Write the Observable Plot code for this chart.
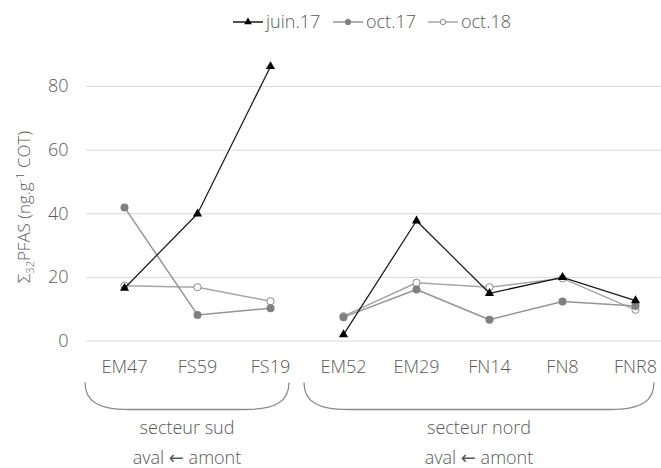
<!DOCTYPE html>
<html><head><meta charset="utf-8">
<script src="https://cdn.jsdelivr.net/npm/d3@7"></script>
<script src="https://cdn.jsdelivr.net/npm/@observablehq/plot@0.6"></script>
<style>body{margin:0;background:#fff}</style>
</head><body><div id="chart"></div>
<script>
const sites = ["EM47","FS59","FS19","EM52","EM29","FN14","FN8","FNR8"];
const siteSector = ["sud","sud","sud","nord","nord","nord","nord","nord"];
const juin17 = [16.6, 40.0, 86.3, 2.0, 37.8, 15.0, 20.0, 12.7];
const oct17  = [42.0, 8.2, 10.3, 7.5, 16.2, 6.7, 12.4, 11.0];
const oct18  = [17.4, 16.9, 12.5, 7.8, 18.3, 16.9, 19.7, 9.8];
const seriesNames = ["juin.17","oct.17","oct.18"];
const yTicks = [0, 20, 40, 60, 80];
const sectorKeys = ["sud","nord"];
const sectorLabels = ["secteur sud","secteur nord"];
const sectorFirst = ["EM47","EM52"];
const sectorLast = ["FS19","FNR8"];
const directionWords = ["aval", "amont"];

const ink = "#595959";
const FONT = "'Open Sans', 'Segoe UI', sans-serif";
const seriesValues = [juin17, oct17, oct18];
const rows = [];
seriesNames.forEach((s, k) => sites.forEach((site, i) =>
  rows.push({series: s, site, sector: siteSector[i], value: seriesValues[k][i]})));
const of = s => rows.filter(d => d.series === s);

const chart = Plot.plot({
  width: 661, height: 468,
  marginLeft: 86, marginRight: 0, marginTop: 86, marginBottom: 127.5,
  style: {fontFamily: FONT, fontWeight: 300, fontSize: "18px", color: ink, background: "#fff", overflow: "visible"},
  x: {type: "point", domain: sites, range: [86.5, 671.5], padding: 0.5},
  y: {domain: [0, 80]},
  marks: [
    Plot.gridY(yTicks, {stroke: "#d9d9d9", strokeOpacity: 1, strokeWidth: 1}),
    Plot.axisY(yTicks, {tickSize: 0, tickPadding: 18, label: null, fontSize: 18, fill: ink}),
    Plot.axisX({tickSize: 0, tickPadding: 19, label: null, fontSize: 18, fill: ink}),
    Plot.line(of("oct.18"), {x: "site", y: "value", z: "sector", stroke: "#a6a6a6", strokeWidth: 1.5}),
    Plot.dot(of("oct.18"), {x: "site", y: "value", r: 3.6, fill: "white", stroke: "#8c8c8c", strokeWidth: 1}),
    Plot.line(of("oct.17"), {x: "site", y: "value", z: "sector", stroke: "#959595", strokeWidth: 1.5}),
    Plot.dot(of("oct.17"), {x: "site", y: "value", r: 4, fill: "#808080", stroke: "none"}),
    Plot.line(of("juin.17"), {x: "site", y: "value", z: "sector", stroke: "#1a1a1a", strokeWidth: 1.25}),
    Plot.dot(of("juin.17"), {x: "site", y: "value", symbol: "triangle", r: 3.4, fill: "#000", stroke: "none"})
  ]
});
document.getElementById("chart").append(chart);

const svg = d3.select(chart);
const xs = chart.scale("x");
const yBase = 468 - 127.5;

// sector brackets and labels
sectorKeys.forEach((k, i) => {
  const x0 = xs.apply(sectorFirst[i]) - 39;
  const x1 = xs.apply(sectorLast[i]) + 19;
  const yT = yBase + 42, yB = yBase + 69;
  svg.append("path")
    .attr("d", `M${x0},${yT} C${x0},${yT + 18} ${x0 + 12},${yB} ${x0 + 44},${yB} L${x1 - 44},${yB} C${x1 - 12},${yB} ${x1},${yT + 18} ${x1},${yT}`)
    .attr("fill", "none").attr("stroke", "#8c8c8c").attr("stroke-width", 1.3);
  const cx = (x0 + x1) / 2;
  svg.append("text").attr("x", cx).attr("y", yBase + 93.5)
    .attr("text-anchor", "middle").attr("fill", ink)
    .style("font", `300 18px ${FONT}`).text(sectorLabels[i]);
  const t2 = svg.append("text").attr("x", cx).attr("y", yBase + 123.5)
    .attr("text-anchor", "middle").attr("fill", ink)
    .style("font", `300 18px ${FONT}`);
  t2.append("tspan").text(directionWords[0] + " ");
  t2.append("tspan").style("font", "400 18px 'DejaVu Sans', sans-serif").text("\u2190");
  t2.append("tspan").text(" " + directionWords[1]);
});

// y label
const yl = svg.append("text").attr("transform", "translate(24,207) rotate(-90)")
  .attr("text-anchor", "middle").attr("dy", "0.35em").attr("fill", ink)
  .style("font", `300 17px ${FONT}`);
yl.append("tspan").text("\u03a3");
yl.append("tspan").attr("dy", 4).style("font-size", "11px").text("32");
yl.append("tspan").attr("dy", -4).text("PFAS (ng.g");
yl.append("tspan").attr("dy", -6).style("font-size", "11px").text("-1");
yl.append("tspan").attr("dy", 6).text(" COT)");

// legend
const legendX = [233, 333, 428];
const legendY = 22;
const legendStyle = [
  {line: "#1a1a1a", sym: "triangle", fill: "#000", stroke: "none"},
  {line: "#959595", sym: "circle", fill: "#808080", stroke: "none"},
  {line: "#a6a6a6", sym: "circle", fill: "white", stroke: "#8c8c8c"}
];
seriesNames.forEach((s, i) => {
  const x = legendX[i], st = legendStyle[i];
  svg.append("line").attr("x1", x).attr("x2", x + 30).attr("y1", legendY).attr("y2", legendY)
    .attr("stroke", st.line).attr("stroke-width", 1.5);
  const sym = st.sym === "triangle" ? d3.symbol(d3.symbolTriangle, 26) : d3.symbol(d3.symbolCircle, st.stroke === "none" ? 30 : 22);
  svg.append("path").attr("d", sym()).attr("transform", `translate(${x + 15},${legendY})`)
    .attr("fill", st.fill).attr("stroke", st.stroke);
  svg.append("text").attr("x", x + 33).attr("y", legendY).attr("dy", "0.35em")
    .attr("text-anchor", "start").attr("fill", ink)
    .style("font", `300 18px ${FONT}`).text(s);
});
</script></body></html>
